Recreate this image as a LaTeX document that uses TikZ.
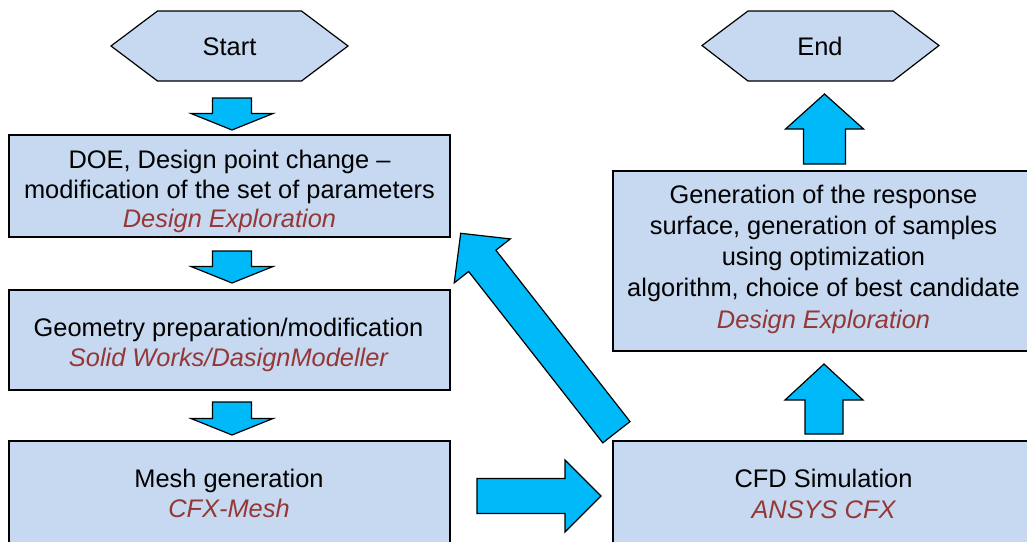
\documentclass[tikz,border=0pt]{standalone}
\usepackage{fontspec}
\setmainfont{Liberation Sans}
\usetikzlibrary{calc}
\definecolor{boxfill}{HTML}{C6D9F1}
\definecolor{arrowfill}{HTML}{00B9F9}
\definecolor{toolred}{HTML}{953735}
\newcommand\blockarrow[5]{%
  \path ($(#2)!#5!(#1)$) coordinate (hb);
  \filldraw[blockarr] ($(#1)!#3!90:(#2)$) -- ($(hb)!#3!90:(#2)$) -- ($(hb)!#4!90:(#2)$) -- (#2)
    -- ($(hb)!#4!-90:(#2)$) -- ($(hb)!#3!-90:(#2)$) -- ($(#1)!#3!-90:(#2)$) -- cycle;
}
\tikzset{
  box/.style={draw=black, line width=1.3pt, fill=boxfill, rectangle, inner sep=0pt},
  hexshape/.style={draw=black, line width=1.2pt, fill=boxfill, line join=miter},
  boxtext/.style={align=center, inner sep=0pt, anchor=north, text=black},
  blockarr/.style={draw=black, line width=1.2pt, fill=arrowfill, line join=miter},
}
\newcommand\tooltext[1]{\textcolor{toolred}{\itshape #1}}
\begin{document}
\begin{tikzpicture}[x=1pt,y=-1pt]
\useasboundingbox (0,0) rectangle (1027,541);
\clip (0,0) rectangle (1027,541);

% hexagons
\coordinate (sc) at (229.5,46);
\filldraw[hexshape] ($(sc)+(-118.5,0)$) -- ($(sc)+(-72,-35)$) -- ($(sc)+(72,-35)$) -- ($(sc)+(118.5,0)$) -- ($(sc)+(72,35)$) -- ($(sc)+(-72,35)$) -- cycle;
\node[font=\fontsize{25.4}{30}\selectfont, inner sep=0pt] (start) at (229.5,46.5) {Start};

\coordinate (ec) at (820.5,45.5);
\filldraw[hexshape] ($(ec)+(-118.5,0)$) -- ($(ec)+(-72.5,-34.5)$) -- ($(ec)+(72.5,-34.5)$) -- ($(ec)+(118.5,0)$) -- ($(ec)+(72.5,35.5)$) -- ($(ec)+(-72.5,35.5)$) -- cycle;
\node[font=\fontsize{25.4}{30}\selectfont, inner sep=0pt] (end) at (820,46) {End};

% boxes
\node[box, minimum width=441pt, minimum height=102pt] (doe) at (229.5,186) {};
\node[box, minimum width=441pt, minimum height=100pt] (geo) at (229.5,340) {};
\node[box, minimum width=441pt, minimum height=159pt] (mesh) at (229.5,520.5) {};
\node[box, minimum width=427pt, minimum height=180pt] (gen) at (826.5,261) {};
\node[box, minimum width=427pt, minimum height=159pt] (cfd) at (826.5,520.5) {};

% texts
\node[boxtext, font=\fontsize{25.4}{29.5}\selectfont] (doetext) at (229.5,150)
  {DOE, Design point change --\\modification of the set of parameters\\\tooltext{Design Exploration}};
\node[boxtext, font=\fontsize{25.4}{30}\selectfont] (geotext) at (228.5,318)
  {Geometry preparation/modification\\\tooltext{Solid Works/DasignModeller}};
\node[boxtext, font=\fontsize{25.4}{30.5}\selectfont] (meshtext) at (229,468.5)
  {Mesh generation\\\tooltext{CFX-Mesh}};
\node[boxtext, font=\fontsize{25.4}{31.25}\selectfont] (gentext) at (823.5,184.5)
  {Generation of the response\\surface, generation of samples\\using optimization\\algorithm, choice of best candidate\\\tooltext{Design Exploration}};
\node[boxtext, font=\fontsize{25.4}{30.5}\selectfont] (cfdtext) at (823.5,469)
  {CFD Simulation\\\tooltext{ANSYS CFX}};

% block arrows
\coordinate (a1s) at (232,98);   \coordinate (a1e) at (232,130);
\coordinate (a2s) at (232,251);  \coordinate (a2e) at (232,283);
\coordinate (a3s) at (232,402);  \coordinate (a3e) at (232,435);
\coordinate (ars) at (477,496);  \coordinate (are) at (601,496);
\coordinate (ads) at (616.4,432.2); \coordinate (ade) at (460.7,233.3);
\coordinate (aus) at (824,434);  \coordinate (aue) at (824,364);
\coordinate (ats) at (824.5,164); \coordinate (ate) at (824.5,94);
\blockarrow{a1s}{a1e}{19.5pt}{41pt}{16.5pt}
\blockarrow{a2s}{a2e}{19.5pt}{41pt}{16.5pt}
\blockarrow{a3s}{a3e}{19.5pt}{41pt}{16.5pt}
\blockarrow{ars}{are}{17.5pt}{36pt}{36pt}
\blockarrow{ads}{ade}{17.3pt}{35.6pt}{35pt}
\blockarrow{aus}{aue}{19pt}{39pt}{36pt}
\blockarrow{ats}{ate}{21pt}{39pt}{35pt}
\end{tikzpicture}
\end{document}
